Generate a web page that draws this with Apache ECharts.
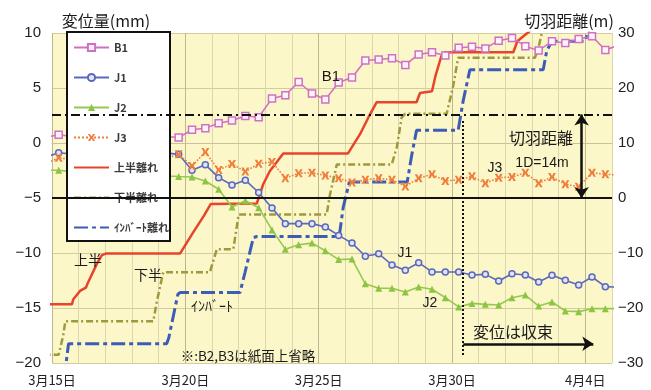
<!DOCTYPE html>
<html>
<head>
<meta charset="utf-8">
<script src="https://cdn.jsdelivr.net/npm/echarts@6/dist/echarts.min.js"></script>
<style>
html,body{margin:0;padding:0;background:#fff;}
#chart{width:651px;height:390px;}
</style>
</head>
<body>
<div id="chart"></div>
<script>
// Measurement times, in days after 3/15 0:00 (two readings per day)
const times = [-0.25, 0.25, 0.75, 1.25, 1.75, 2.25, 2.75, 3.25, 3.75, 4.25, 4.75,
  5.25, 5.75, 6.25, 6.75, 7.25, 7.75, 8.25, 8.75, 9.25, 9.75, 10.25, 10.75,
  11.25, 11.75, 12.25, 12.75, 13.25, 13.75, 14.25, 14.75, 15.25, 15.75, 16.25,
  16.75, 17.25, 17.75, 18.25, 18.75, 19.25, 19.75, 20.25, 20.75, 21.25];

// Displacement (mm)
const b1 = [0.5, 0.75, 0.6, 0.8, 0.7, 0.9, 0.6, 0.7, 0.5, 0.6, 0.5, 1.2, 1.35, 1.8,
  2.05, 2.45, 2.35, 4.05, 4.35, 5.55, 4.5, 3.95, 5.5, 5.95, 7.5, 7.6, 7.7, 7.1,
  8.05, 8.25, 7.95, 8.65, 8.75, 8.6, 9.3, 9.55, 8.8, 8.4, 9.25, 9.1, 9.45, 9.7,
  8.45, 8.9];
const j1 = [-1.3, -0.88, -1.0, -0.8, -1.1, -0.9, -1.0, -0.8, -1.1, -0.9, -1.03,
  -2.48, -1.97, -3.15, -3.82, -3.38, -4.5, -5.9, -7.33, -7.33, -7.33, -7.64, -8.4,
  -9.1, -10.3, -10.06, -11.09, -11.56, -10.88, -11.72, -11.73, -11.73, -12.0,
  -11.94, -12.55, -11.88, -12.0, -12.64, -12.03, -12.48, -12.9, -12.18, -13.06, -13.1];
const j2 = [-2.48, -2.48, -2.6, -2.5, -2.7, -2.6, -2.8, -2.7, -2.9, -3.0, -3.05,
  -3.09, -3.45, -4.2, -5.82, -5.25, -5.88, -7.9, -9.65, -9.25, -9.1, -9.8, -10.6,
  -10.55, -12.8, -13.2, -13.2, -13.55, -13.09, -13.3, -14.06, -14.9, -14.58, -14.67,
  -14.73, -14.06, -13.82, -14.82, -14.45, -15.27, -15.33, -15.06, -15.06, -15.06];
const j3 = [-1.9, -1.35, -1.5, -1.2, -1.6, -1.3, -1.5, -1.2, -1.6, -1.4, -1.03,
  -2.09, -0.82, -2.45, -1.9, -2.6, -1.88, -1.72, -3.2, -2.75, -2.7, -2.95, -3.2,
  -3.6, -3.35, -3.2, -3.35, -3.95, -3.2, -2.85, -3.45, -3.35, -3.03, -3.67, -3.15,
  -3.09, -2.7, -3.67, -3.09, -3.76, -3.97, -2.7, -2.85, -2.9];

// Face distance (m) of each excavation stage
const upperDays = [-0.5, 0.75, 0.8, 1.05, 1.27, 1.33, 1.7, 1.87, 2.02, 4.8, 5.3,
  5.7, 5.95, 7.68, 7.92, 8.17, 8.36, 8.67, 11.1, 11.55, 11.86, 12.17, 13.67, 13.8,
  14.25, 14.38, 14.6, 14.75, 17.3, 17.45, 17.85, 18.1];
const upperDist = [-19.3, -19.3, -18.4, -16.9, -16.3, -15.6, -11.8, -10.4, -10.1,
  -10.1, -6.2, -3.2, -1.1, -1.0, 2.5, 4.9, 6.1, 8.1, 8.1, 11.6, 14.6, 17.4, 17.4,
  19.1, 19.4, 22.2, 25.8, 26.5, 26.5, 28.5, 30.1, 31.0];
const lowerDays = [-0.5, 0.25, 0.42, 0.5, 3.8, 3.92, 4.17, 5.92, 6.18, 6.8, 7.0,
  10.3, 10.42, 10.68, 12.74, 12.93, 13.11, 13.24, 14.8, 15.05, 15.23, 18.11, 18.25,
  18.36, 18.5];
const lowerDist = [-28.5, -28.5, -25.0, -22.4, -22.4, -19.1, -13.5, -13.5, -9.3,
  -9.3, -3.0, -3.0, 0.5, 6.1, 6.1, 9.2, 14.6, 15.3, 15.3, 20.5, 25.5, 25.5, 27.5,
  29.8, 31.5];
const invertDays = [-0.5, 0.45, 0.62, 4.3, 4.38, 4.72, 4.8, 7.05, 7.24, 7.55, 7.68,
  10.77, 10.92, 11.15, 13.32, 13.49, 13.67, 15.23, 15.42, 15.67, 18.42, 18.55,
  18.74, 19.99, 20.11, 20.3];
const invertDist = [-33, -33, -26.5, -26.5, -25.4, -17.5, -17.2, -17.2, -13.5, -7.2,
  -7.0, -7.0, -1.7, 2.9, 2.9, 7.8, 12.3, 12.3, 17.7, 23.3, 23.3, 26.7, 28.5, 28.5,
  30.4, 32];

// Date labels every five days, starting 3/15
const dateLabels = ['3月15日', '3月20日', '3月25日', '3月30日', '4月4日'];
const pointNames = ['B1', 'J1', 'J2', 'J3'];
const stageNames = ['上半離れ', '下半離れ', 'ｲﾝﾊﾞｰﾄ離れ'];

// Reference levels (right axis, m) and annotation positions (days / m)
const oneDiameter = 15.2;
const convergeDay = 15.42;
const arrowDay = 19.86;

const FONT = '"Liberation Sans", "Noto Sans CJK JP", sans-serif';
const CJK = '"Noto Sans CJK JP", "Liberation Sans", sans-serif';

const pairs = (xs, ys) => xs.map((x, i) => [x, ys[i]]);
const minus = v => String(v).replace('-', '\u2212');

const xMark = 'path://M0,0L3,0L5,3.6L7,0L10,0L7,5L10,10L7,10L5,6.4L3,10L0,10L3,5Z';

const chart = echarts.init(document.getElementById('chart'), null, {renderer: 'canvas'});

const txt = (text, x, y, size, extra) => ({
  type: 'text', x, y, z: 20,
  style: Object.assign({
    text, fill: '#1a1a1a', fontSize: size, fontFamily: CJK,
    align: 'center', verticalAlign: 'middle'
  }, extra || {})
});

// stage lines are shown in the legend as plain line samples
const legendData = pointNames.map(n => ({name: n})).concat(
  stageNames.map(n => ({name: n, itemStyle: {opacity: 0}})));

chart.setOption({
  animation: false,
  backgroundColor: '#ffffff',
  textStyle: {fontFamily: FONT},
  grid: {
    left: 52, top: 33, width: 560, height: 330,
    show: true, backgroundColor: '#fbf7c8', borderWidth: 0
  },
  legend: {
    orient: 'vertical', left: 67, top: 32,
    itemWidth: 35, itemHeight: 9, itemGap: 19,
    padding: [10, 1, 8, 6],
    backgroundColor: '#ffffff', borderColor: '#111', borderWidth: 2,
    selectedMode: false,
    textStyle: {fontSize: 11, fontWeight: 'bold', color: '#3a3a3a', fontFamily: CJK},
    data: legendData
  },
  xAxis: {
    type: 'value', min: 0, max: 21, interval: 1,
    axisLine: {show: true, lineStyle: {color: '#c9c29a'}},
    axisTick: {show: false},
    axisLabel: {
      margin: 11, fontSize: 13, color: '#222', fontFamily: CJK,
      formatter: v => (v % 5 === 0 && dateLabels[v / 5]) ? dateLabels[v / 5] : ''
    },
    splitLine: {
      show: true,
      lineStyle: {color: ['#bfb78c', '#ddd7b0', '#ddd7b0', '#ddd7b0', '#ddd7b0'], width: 1}
    }
  },
  yAxis: [{
    type: 'value', min: -20, max: 10, interval: 5,
    axisLine: {show: false}, axisTick: {show: false},
    axisLabel: {margin: 11, fontSize: 15, color: '#222', formatter: minus},
    splitLine: {lineStyle: {color: '#d3cca0', width: 1}}
  }, {
    type: 'value', min: -30, max: 30, interval: 10, position: 'right',
    axisLine: {show: false}, axisTick: {show: false},
    axisLabel: {margin: 6, fontSize: 15, color: '#222', formatter: minus},
    splitLine: {show: false}
  }],
  series: [{
    name: '上半離れ', type: 'line', yAxisIndex: 1, symbol: 'none', z: 2,
    data: pairs(upperDays, upperDist),
    lineStyle: {color: '#e8442c', width: 2.5}, itemStyle: {color: '#e8442c'}
  }, {
    name: '下半離れ', type: 'line', yAxisIndex: 1, symbol: 'none', z: 2,
    data: pairs(lowerDays, lowerDist),
    lineStyle: {color: '#9d9a3e', width: 2.5, type: [7, 3, 2, 3]}, itemStyle: {color: '#9d9a3e'}
  }, {
    name: 'ｲﾝﾊﾞｰﾄ離れ', type: 'line', yAxisIndex: 1, symbol: 'none', z: 2,
    data: pairs(invertDays, invertDist),
    lineStyle: {color: '#3d5cb8', width: 3, type: [14, 4, 4, 4]}, itemStyle: {color: '#3d5cb8'}
  }, {
    name: 'B1', type: 'line', symbol: 'rect', symbolSize: 7, z: 3,
    data: pairs(times, b1),
    lineStyle: {color: '#d070c4', width: 1.5},
    itemStyle: {color: '#fff4fb', borderColor: '#d070c4', borderWidth: 1.5}
  }, {
    name: 'J1', type: 'line', symbol: 'circle', symbolSize: 6, z: 3,
    data: pairs(times, j1),
    lineStyle: {color: '#5b68bd', width: 1.6},
    itemStyle: {color: '#e2e5f7', borderColor: '#5b68bd', borderWidth: 1.5}
  }, {
    name: 'J2', type: 'line', symbol: 'triangle', symbolSize: 7, z: 3,
    data: pairs(times, j2),
    lineStyle: {color: '#96c84e', width: 1.6},
    itemStyle: {color: '#8cc443', borderColor: '#8cc443', borderWidth: 0}
  }, {
    name: 'J3', type: 'line', symbol: xMark, symbolSize: 8, z: 3,
    data: pairs(times, j3),
    lineStyle: {color: '#ef7d3c', width: 1.6, type: 'dotted'},
    itemStyle: {color: '#ef7d3c'}
  }, {
    name: 'annotations', type: 'line', yAxisIndex: 1, data: [], z: 4,
    markLine: {
      silent: true, animation: false, symbol: 'none',
      label: {show: false},
      emphasis: {disabled: true},
      data: [
        {yAxis: oneDiameter, lineStyle: {color: '#111', width: 2, type: [9, 4, 2, 4]}},
        {yAxis: 0, lineStyle: {color: '#111', width: 2, type: 'solid'}},
        [{coord: [convergeDay, 14], symbol: 'none', lineStyle: {color: '#111', width: 2, type: [2, 2]}},
         {coord: [convergeDay, -28.7], symbol: 'none'}],
        [{coord: [arrowDay, 0], symbol: 'arrow', symbolSize: 11, lineStyle: {color: '#111', width: 2.5, type: 'solid'}},
         {coord: [arrowDay, oneDiameter], symbol: 'arrow', symbolSize: 11}],
        [{coord: [convergeDay, -26.5], symbol: 'none', lineStyle: {color: '#111', width: 2.5, type: 'solid'}},
         {coord: [20.3, -26.5], symbol: 'arrow', symbolSize: 11}]
      ]
    }
  }],
  graphic: [
    txt('変位量(mm)', 106, 21, 16),
    txt('切羽距離(m)', 569, 21, 16),
    txt('B1', 331, 77, 15, {fontFamily: FONT}),
    txt('J1', 405, 253, 14, {fontFamily: FONT}),
    txt('J2', 430, 303, 14, {fontFamily: FONT}),
    txt('J3', 495, 168, 14, {fontFamily: FONT}),
    txt('上半', 88, 260, 14),
    txt('下半', 148, 275, 14),
    txt('ｲﾝﾊﾞｰﾄ', 212, 306, 14),
    txt('※:B2,B3は紙面上省略', 248, 356, 13.5),
    txt('変位は収束', 513, 332, 16),
    txt('切羽距離', 541, 138, 16),
    txt('1D=14m', 542, 163, 14, {fontFamily: FONT})
  ]
});
</script>
</body>
</html>
